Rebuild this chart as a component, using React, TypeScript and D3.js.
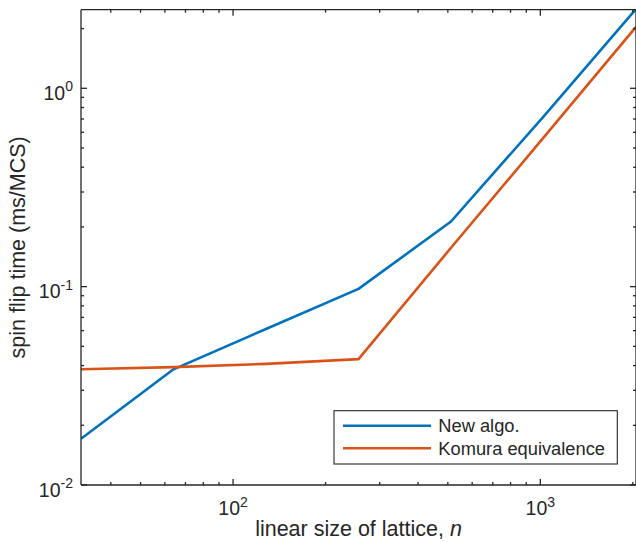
import React from "react";
import * as d3 from "d3";

const sizes = [32, 64, 128, 256, 512, 1024, 2048];
const newAlgo = [0.0171, 0.0383, 0.0612, 0.0974, 0.213, 0.72, 2.51];
const komura = [0.0383, 0.0393, 0.0408, 0.0431, 0.157, 0.564, 2.04];
const seriesNames = ["New algo.", "Komura equivalence"];
const seriesColors = ["#0072BD", "#D95319"];
const xTickExps = [2, 3];
const yTickExps = [0, -1, -2];

const W = 636, H = 542;
const L = 81, R = 636, T = 9.7, B = 485;
const FONT = "'Liberation Sans', Arial, Helvetica, sans-serif";
const AX = "#262626";

export default function App() {
  const x = d3.scaleLog().domain([32, 2048]).range([L, R]);
  const y = d3.scaleLog().domain([0.01, 2.49]).range([B, T]);
  const line = d3.line<[number, number]>().x(d => x(d[0])).y(d => y(d[1]));
  const data = [newAlgo, komura].map(vals => sizes.map((s, i) => [s, vals[i]] as [number, number]));

  const xTicks: { v: number; major: boolean }[] = [];
  for (let e = 1; e <= 3; e++) for (let m = 1; m <= 9; m++) {
    const v = m * Math.pow(10, e);
    if (v >= 32 && v <= 2048) xTicks.push({ v, major: m === 1 });
  }
  const yTicks: { v: number; major: boolean }[] = [];
  for (let e = -2; e <= 0; e++) for (let m = 1; m <= 9; m++) {
    const v = m * Math.pow(10, e);
    if (v >= 0.01 && v <= 2.49) yTicks.push({ v, major: m === 1 });
  }

  const tl = (major: boolean) => (major ? 6 : 3);

  return (
    <svg width={W} height={H} style={{ position: "absolute", left: 0, top: 0, background: "#fff" }} fontFamily={FONT}>
      <rect x={0} y={0} width={W} height={H} fill="#fff" />
      <defs>
        <clipPath id="plotclip">
          <rect x={L} y={T} width={R - L} height={B - T} />
        </clipPath>
      </defs>
      <g clipPath="url(#plotclip)">
        {data.map((d, i) => (
          <path key={i} d={line(d) || ""} fill="none" stroke={seriesColors[i]} strokeWidth={2.6} strokeLinejoin="round" />
        ))}
      </g>
      <g stroke={AX} strokeWidth={1.3} fill="none">
        <line x1={L} y1={B} x2={R} y2={B} />
        <line x1={L} y1={T} x2={R} y2={T} />
        <line x1={L} y1={T} x2={L} y2={B} />
        <line x1={R} y1={T} x2={R} y2={B} />
        {xTicks.map((t, i) => (
          <g key={"x" + i}>
            <line x1={x(t.v)} x2={x(t.v)} y1={B} y2={B - tl(t.major)} />
            <line x1={x(t.v)} x2={x(t.v)} y1={T} y2={T + tl(t.major)} />
          </g>
        ))}
        {yTicks.map((t, i) => (
          <g key={"y" + i}>
            <line x1={L} x2={L + tl(t.major)} y1={y(t.v)} y2={y(t.v)} />
            <line x1={R} x2={R - tl(t.major)} y1={y(t.v)} y2={y(t.v)} />
          </g>
        ))}
      </g>
      <g fill={AX} fontSize={19.5}>
        {xTickExps.map(e => (
          <text key={"xl" + e} x={x(Math.pow(10, e))} y={515} textAnchor="middle">
            10<tspan fontSize={14} dy={-8.3}>{e}</tspan>
          </text>
        ))}
        {yTickExps.map(e => (
          <text key={"yl" + e} x={L - 8} y={y(Math.pow(10, e)) + 11.5} textAnchor="end">
            10<tspan fontSize={14} dy={-8.3}>{e}</tspan>
          </text>
        ))}
      </g>
      <text x={(L + R) / 2} y={536} textAnchor="middle" fontSize={21.5} fill={AX}>
        linear size of lattice, <tspan fontStyle="italic">n</tspan>
      </text>
      <text transform={`translate(25,${(T + B) / 2}) rotate(-90)`} textAnchor="middle" fontSize={21.5} fill={AX}>
        spin flip time (ms/MCS)
      </text>
      <g>
        <rect x={334} y={410.7} width={283.3} height={53.3} fill="#fff" stroke={AX} strokeWidth={1.1} />
        {seriesNames.map((n, i) => (
          <g key={n}>
            <line x1={343} x2={431} y1={425.7 + i * 22.6} y2={425.7 + i * 22.6} stroke={seriesColors[i]} strokeWidth={2.6} />
            <text x={438.3} y={425.7 + i * 22.6 + 6.5} fontSize={18.3} fill={AX}>{n}</text>
          </g>
        ))}
      </g>
    </svg>
  );
}
